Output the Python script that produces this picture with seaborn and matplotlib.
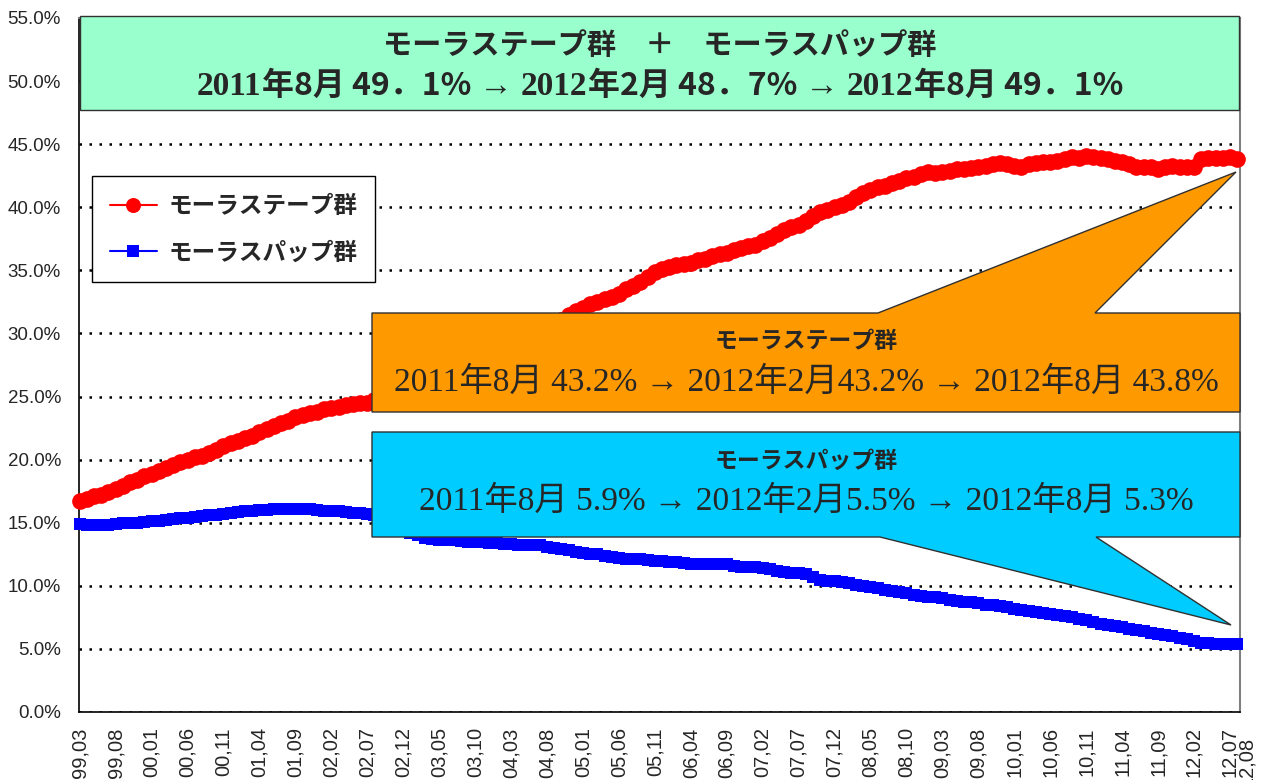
import numpy as np
import pandas as pd
import seaborn as sns
import matplotlib
matplotlib.use("Agg")
import matplotlib.pyplot as plt
from matplotlib.patches import Polygon
from matplotlib.font_manager import FontProperties

# monthly share (%), 1999.03 - 2012.08
months = pd.period_range("1999-03", "2012-08", freq="M")
tick_labels = [f"{p.year % 100:02d},{p.month:02d}" for p in months]

tape = [16.7, 16.9, 17.1, 17.2, 17.4, 17.7, 17.9, 18.2, 18.4, 18.7,                # 1999
        18.9, 19.1, 19.3, 19.6, 19.8, 20.0, 20.2, 20.3, 20.5, 20.8, 21.1, 21.3,    # 2000
        21.5, 21.7, 21.9, 22.2, 22.4, 22.7, 22.9, 23.1, 23.4, 23.5, 23.7, 23.8,    # 2001
        24.0, 24.1, 24.2, 24.3, 24.4, 24.5, 24.5, 24.7, 24.9, 25.1, 25.3, 25.6,    # 2002
        25.8, 26.0, 26.3, 26.5, 26.8, 27.0, 27.3, 27.5, 27.8, 28.0, 28.3, 28.5,    # 2003
        28.8, 29.0, 29.3, 29.6, 29.8, 30.1, 30.3, 30.6, 30.9, 31.1, 31.5, 31.8,    # 2004
        32.0, 32.3, 32.5, 32.7, 32.9, 33.1, 33.5, 33.8, 34.1, 34.5, 34.9, 35.1,    # 2005
        35.3, 35.4, 35.5, 35.6, 35.8, 35.9, 36.1, 36.3, 36.4, 36.6, 36.8, 36.9,    # 2006
        37.0, 37.3, 37.6, 37.9, 38.2, 38.4, 38.6, 38.9, 39.3, 39.6, 39.8, 40.0,    # 2007
        40.2, 40.4, 40.8, 41.1, 41.4, 41.6, 41.7, 41.9, 42.1, 42.3, 42.4, 42.6,    # 2008
        42.8, 42.7, 42.8, 42.9, 43.0, 43.0, 43.1, 43.2, 43.3, 43.4, 43.5, 43.4,    # 2009
        43.3, 43.2, 43.4, 43.5, 43.6, 43.6, 43.7, 43.8, 44.0, 43.9, 44.1, 44.0,    # 2010
        43.9, 43.8, 43.7, 43.6, 43.4, 43.2, 43.2, 43.2, 43.0, 43.2, 43.3, 43.2,    # 2011
        43.2, 43.2, 43.8, 43.9, 43.9, 43.9, 44.0, 43.8]                            # 2012

pap = [14.9, 14.85, 14.8, 14.8, 14.85, 14.9, 14.95, 15.0, 15.0, 15.05,                     # 1999
       15.1, 15.15, 15.2, 15.3, 15.35, 15.4, 15.45, 15.5, 15.6, 15.65, 15.7, 15.8,         # 2000
       15.85, 15.9, 15.95, 16.0, 16.0, 16.05, 16.05, 16.05, 16.05, 16.05, 16.05, 16.0,    # 2001
       15.95, 15.9, 15.9, 15.85, 15.8, 15.75, 15.7, 15.6, 15.4, 15.1, 14.8, 14.5,         # 2002
       14.2, 14.0, 13.8, 13.7, 13.65, 13.6, 13.6, 13.55, 13.5, 13.5, 13.45, 13.4,         # 2003
       13.4, 13.35, 13.3, 13.25, 13.2, 13.2, 13.2, 13.1, 13.0, 12.9, 12.8, 12.7,          # 2004
       12.6, 12.55, 12.5, 12.4, 12.3, 12.2, 12.15, 12.1, 12.1, 12.05, 12.0, 11.95,        # 2005
       11.9, 11.85, 11.8, 11.75, 11.7, 11.7, 11.7, 11.75, 11.7, 11.6, 11.5, 11.5,         # 2006
       11.5, 11.4, 11.3, 11.2, 11.1, 11.05, 11.0, 10.9, 10.7, 10.5, 10.4, 10.35,          # 2007
       10.3, 10.2, 10.1, 10.0, 9.9, 9.8, 9.7, 9.6, 9.5, 9.4, 9.3, 9.2,                    # 2008
       9.15, 9.1, 9.0, 8.9, 8.8, 8.75, 8.7, 8.6, 8.5, 8.45, 8.4, 8.3,                     # 2009
       8.2, 8.1, 8.0, 7.95, 7.85, 7.8, 7.7, 7.6, 7.5, 7.4, 7.3, 7.15,                     # 2010
       7.0, 6.9, 6.8, 6.7, 6.6, 6.5, 6.4, 6.3, 6.2, 6.1, 6.0, 5.9,                        # 2011
       5.75, 5.6, 5.5, 5.45, 5.4, 5.4, 5.4, 5.35]                                         # 2012

series_names = ["モーラステープ群", "モーラスパップ群"]
title_line1 = "モーラステープ群　＋　モーラスパップ群"
title_line2 = [("2011", "serif"), ("年8月 49．1%", "jp"), (" → ", "serif"),
               ("2012", "serif"), ("年2月 48．7%", "jp"), (" → ", "serif"),
               ("2012", "serif"), ("年8月 49．1%", "jp")]
tape_note = "2011年8月 43.2% → 2012年2月43.2% → 2012年8月 43.8%"
pap_note = "2011年8月 5.9% → 2012年2月5.5% → 2012年8月 5.3%"

sns.set_style("white")
plt.rcParams["font.family"] = ["Liberation Sans", "DejaVu Sans"]
JP = ["Noto Sans CJK JP", "DejaVu Sans"]
SERIF_JP = ["Liberation Serif", "Noto Sans CJK JP"]

W, H = 1268, 780
fig = plt.figure(figsize=(W / 100, H / 100), dpi=100)
ax = fig.add_axes([79 / W, 1 - 712 / H, (1240 - 79) / W, (712 - 18) / H])

df = pd.DataFrame({"idx": np.arange(len(months)), "tape": tape, "pap": pap})
sns.lineplot(data=df, x="idx", y="tape", ax=ax, color="#FF0000", marker="o",
             markersize=12, markeredgewidth=0, linewidth=1.5,
             label=series_names[0], clip_on=False, zorder=3)
sns.lineplot(data=df, x="idx", y="pap", ax=ax, color="#0000FF", marker="s",
             markersize=9, markeredgewidth=0, linewidth=1.5,
             label=series_names[1], clip_on=False, zorder=3)

ax.set_xlim(-0.1, len(months) - 0.6)
ax.set_ylim(0, 55)
ax.set_xlabel("")
ax.set_ylabel("")

# x axis: tick every month, label every 5 months
major = list(range(0, len(months) - 1, 5))
ax.set_xticks(major)
ax.set_xticklabels([tick_labels[i] for i in major], rotation=90, fontsize=14.5)
ax.set_xticks(range(len(months)), minor=True)
ax.tick_params(axis="x", which="both", direction="in", length=5, width=1,
               color="black", pad=11)
ax.annotate(tick_labels[-1], xy=(len(months) - 1, 0), xycoords=("data", "axes fraction"),
            xytext=(7, -18), textcoords="offset points", rotation=90,
            ha="center", va="top", fontsize=14.5, annotation_clip=False)

yt = np.arange(0, 56, 5)
ax.set_yticks(yt)
ax.set_yticklabels([f"{v:.1f}%" for v in yt], fontsize=13.5)
ax.tick_params(axis="y", direction="out", length=5, width=1, color="black", pad=8)
ax.yaxis.grid(True, color="black", linestyle=(0, (1, 3)), linewidth=1.8)
ax.xaxis.grid(False)
ax.set_axisbelow(True)

for s in ["left", "bottom"]:
    ax.spines[s].set_color("black")
    ax.spines[s].set_linewidth(1.2)
for s in ["top", "right"]:
    ax.spines[s].set_color("#808080")
    ax.spines[s].set_linewidth(1.5)

leg = ax.legend(loc="upper left", bbox_to_anchor=(0.0112, 0.772), borderaxespad=0,
                prop=FontProperties(family=JP, weight="bold", size=17),
                frameon=True, fancybox=False, edgecolor="black", framealpha=1,
                handlelength=2.0, handletextpad=0.5, borderpad=0.75, labelspacing=0.95,
                markerscale=0.9)
leg.get_frame().set_linewidth(1.0)


def P(x, y):
    return (x / W, 1 - y / H)


def box(points, color):
    fig.add_artist(Polygon([P(*p) for p in points], closed=True, transform=fig.transFigure,
                           facecolor=color, edgecolor="#303030", linewidth=1.0))


# title box
box([(80, 16), (1239, 16), (1239, 110), (80, 110)], "#99FFCC")
fig.text(*P(660, 45), title_line1, ha="center", va="center", family=JP,
         weight="bold", fontsize=21)

# mixed font second title line, centred
renderer = fig.canvas.get_renderer()
pieces = []
for s, kind in title_line2:
    fam = ["Liberation Serif"] if kind == "serif" else JP
    t = fig.text(0, 0, s, family=fam, weight="bold", fontsize=24 if kind == "serif" else 23,
                 ha="left", va="baseline")
    pieces.append(t)
widths = [t.get_window_extent(renderer).width for t in pieces]
x0 = 660 - sum(widths) / 2
for t, w in zip(pieces, widths):
    t.set_position(P(x0, 95))
    x0 += w

# callouts
box([(372, 313), (878, 313), (1236, 172), (1095, 313), (1240, 313), (1240, 412), (372, 412)],
    "#FF9900")
fig.text(*P(806, 341), series_names[0], ha="center", va="center", family=JP,
         weight="bold", fontsize=16.5)
fig.text(*P(806, 382), tape_note, ha="center", va="center", family=SERIF_JP, fontsize=24)

box([(372, 432), (1240, 432), (1240, 537), (1096, 537), (1231, 625), (880, 537), (372, 537)],
    "#00CCFF")
fig.text(*P(806, 461), series_names[1], ha="center", va="center", family=JP,
         weight="bold", fontsize=16.5)
fig.text(*P(806, 501), pap_note, ha="center", va="center", family=SERIF_JP, fontsize=24)

fig.savefig("out.png", dpi=100)
